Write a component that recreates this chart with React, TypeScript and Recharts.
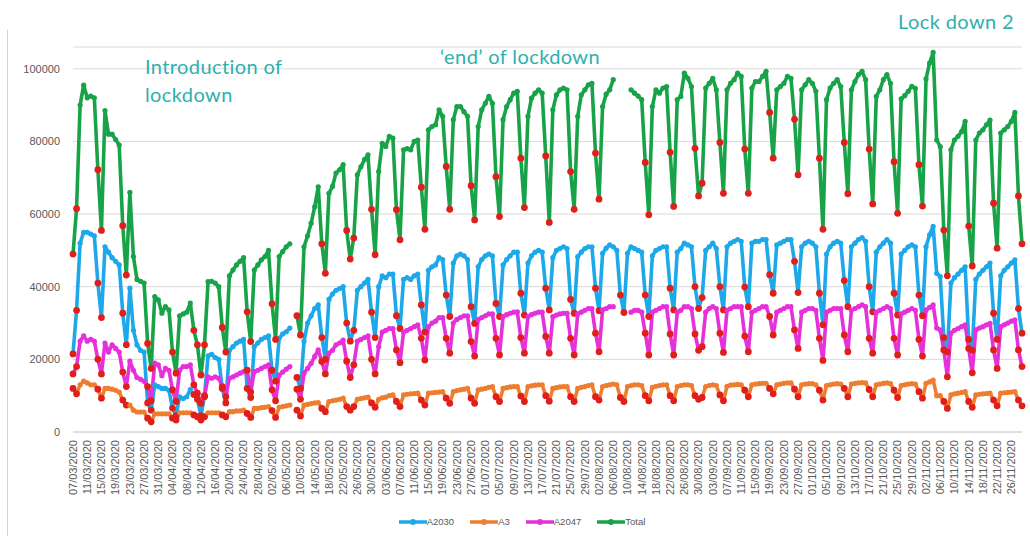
import {CartesianGrid, Legend, Line, LineChart, XAxis, YAxis} from 'recharts';

// daily counts in thousands, one row per week (Sat..Fri), from 07/03/2020
const A2030 = [
  21.5, 33.5, 52, 55, 55, 54.5, 54,
  41, 31.5, 51, 49.5, 48, 47, 46,
  32.7, 24, 39.6, 28, 24, 22.5, 22,
  8, 6, 13, 12.5, 12, 12, 11.5,
  6.6, 4.5, 9.7, 9.2, 9.7, 11.7, 10.3,
  9, 4.5, 10, 21, 21.4, 20.5, 20,
  12, 8, 22.5, 23.5, 24.5, 25, 25.5,
  12, 9.5, 23.5, 24.5, 25.5, 26, 26.5,
  17, 14, 25.8, 27, 27.6, 28.6, null,
  15, 12, 25, 30, 32, 34, 35,
  26, 20, 36.5, 38, 39, 39.5, 40,
  30, 25, 28, 39, 40, 41, 42,
  33, 26, 40, 43, 42.5, 43.5, 43.5,
  32, 28.5, 42, 42.5, 42, 43, 43.5,
  35, 27.5, 44.5, 45.5, 46, 48, 47.5,
  37.7, 31.8, 46.5, 48.5, 49, 48.5, 47.5,
  34.5, 29.9, 45.5, 47.5, 48.5, 49, 48.5,
  35.4, 31.8, 46, 47.5, 48.5, 49.5, 49.5,
  38.2, 32.2, 46.5, 48.5, 49.5, 50, 49.5,
  39.6, 33.6, 48, 50, 50.5, 51, 50.5,
  36.5, 32.7, 48.3, 49.5, 50.5, 51, 51,
  39.6, 33.4, 49.2, 50.6, 51.5, 51, 50,
  37.7, 32.9, 49.2, 51, 50.5, 50, 49.5,
  37.7, 31.8, 48.5, 50, 50.5, 51, 51,
  39.6, 33.6, 49.5, 50.5, 52, 51.5, 51,
  40, 34, 37, 50, 51, 52, 50.5,
  40, 33.6, 51, 52, 52.5, 53, 52.5,
  39.9, 34.5, 52, 52.5, 52.5, 53, 53,
  43.3, 38.2, 51.5, 52, 52.5, 53, 53,
  47, 38.4, 51, 52, 52.5, 52, 51,
  38.2, 29.5, 49, 51, 52, 52.5, 52,
  41.7, 34.5, 51, 52, 53, 53.5, 52.5,
  40, 33.1, 49.5, 51, 52, 53, 52,
  38.2, 32.2, 49, 50, 51, 51.5, 51,
  37.7, 32, 51, 54.3, 56.6, 43.7, 42.8,
  26, 22, 41, 42.5, 43.5, 44.5, 45.5,
  25.5, 22.5, 42, 43.5, 44.5, 45.5, 46.5,
  32.7, 25.5, 43, 44.5, 45.5, 46.5, 47.4,
  34, 27.2,
];

const A3 = [
  12, 10.5, 13, 14, 13.5, 13, 13,
  11.8, 9.3, 12, 12, 11.8, 11.5, 11,
  8.8, 7.4, 7.4, 6, 5.5, 5.5, 5.5,
  3.8, 2.8, 5, 5, 5, 5, 5,
  3.8, 3.3, 5.3, 5.3, 5.3, 5.3, 4.7,
  4.2, 3.3, 4.2, 5.3, 5.3, 5.3, 5.3,
  4.7, 4.2, 5.6, 5.6, 5.8, 5.8, 6,
  5.1, 4, 6.5, 6.5, 6.7, 6.8, 7,
  5.9, 4, 6.8, 7, 7.2, 7.4, null,
  6, 4.4, 7.4, 7.6, 7.8, 8, 8.1,
  6.5, 5.6, 8.4, 8.6, 8.8, 9, 9.3,
  7, 6, 7, 9, 9.2, 9.4, 9.6,
  8, 6.8, 9, 9.4, 9.6, 10, 10.2,
  8.4, 7, 10.2, 10.4, 10.5, 10.6, 10.7,
  8.8, 7.4, 10.7, 10.8, 10.9, 11, 11.1,
  9.3, 7.9, 11.1, 11.4, 11.6, 11.8, 12,
  9.3, 7.9, 11.6, 11.8, 12, 12.3, 12.5,
  9.7, 8.4, 12, 12.2, 12.4, 12.5, 12.5,
  9.9, 8.4, 12.5, 12.7, 12.9, 13, 13,
  10, 8.5, 12, 12.2, 12.4, 12.5, 12.5,
  9.7, 8.4, 12, 12.3, 12.5, 12.8, 13,
  9.7, 8.8, 12.5, 12.8, 13, 13.2, 13,
  9.5, 8.4, 12.5, 12.8, 13, 13, 12.8,
  10, 8.6, 12.3, 12.6, 12.8, 13, 13,
  10, 8.6, 12.5, 12.8, 13, 13, 12.8,
  10, 9, 9.5, 12.5, 12.8, 13, 12.8,
  10.2, 8.6, 12.6, 12.9, 13, 13.1, 13,
  11.5, 9.7, 13, 13.2, 13.3, 13.4, 13.4,
  12, 10.5, 13, 13.2, 13.4, 13.5, 13.5,
  11.8, 9.7, 13, 13.2, 13.3, 13.3, 13,
  11.5, 8.8, 12.8, 13, 13.2, 13.3, 13.2,
  12, 9.7, 13.2, 13.4, 13.5, 13.6, 13.5,
  11.7, 9.7, 13, 13.2, 13.4, 13.5, 13.3,
  11.5, 9.5, 12.8, 13, 13.2, 13.3, 13.2,
  11.1, 9.3, 13.4, 13.8, 14.3, 10, 10,
  8.4, 6.5, 10.2, 10.5, 10.7, 10.9, 11.1,
  8.4, 6.8, 10.2, 10.4, 10.5, 10.6, 10.7,
  8.8, 7.2, 10.7, 10.8, 10.9, 11, 11.1,
  8.8, 7.2,
];

const A2047 = [
  16, 18, 25, 26.5, 25, 25.5, 25,
  20, 16, 24.5, 22, 24, 23, 22,
  16.5, 12.5, 19.5, 17, 15, 14.5, 14,
  12.5, 8.6, 19, 18.5, 15.5, 17.5, 17,
  11.6, 8.4, 17, 18, 18, 18.5, 13,
  10.7, 7.9, 9.7, 15.2, 14.8, 15.2, 14.8,
  12.5, 9.7, 14.8, 15.2, 15.7, 16.2, 16.6,
  17, 11, 16.6, 17, 17.5, 18, 18.5,
  11.6, 8.6, 15.7, 16.5, 17.3, 18, null,
  11.8, 9, 16.2, 17.5, 18.9, 20.8, 22.6,
  19.4, 16, 21.7, 22.5, 24, 24.5, 25.3,
  19.5, 15, 18.5, 25, 25.5, 26, 26.5,
  20, 16, 23.5, 27.5, 28, 28.5, 28.5,
  22.6, 19.1, 27.5, 28, 28.5, 29, 29.5,
  25.8, 19.8, 29, 30, 30.5, 31.5, 31.5,
  25.8, 21.7, 30, 31, 31.5, 32, 32,
  24.9, 20.9, 31, 31.5, 32, 32.5, 32.5,
  25.8, 21.2, 31.8, 32.3, 32.7, 33, 33.1,
  26, 21.7, 31.8, 32.3, 32.7, 33, 33,
  26.3, 21.7, 31.8, 32.2, 32.5, 32.7, 32.7,
  25.8, 21.2, 32.5, 33, 33.5, 34, 34,
  27.2, 22.1, 33.6, 34, 34.5, 34.5, null,
  null, null, null, 33, 33.5, 33.5, 33,
  27.2, 21.2, 33, 33.5, 34, 34.5, 34.5,
  27, 21.2, 33, 33.5, 34.5, 34.5, 34,
  27, 22.5, 23.5, 33, 34, 34.5, 34,
  27.2, 21.9, 33.5, 34, 34.5, 34.5, 34.5,
  26.4, 22.1, 33, 33.5, 34, 34.5, 34.5,
  31.8, 26.7, 33, 33.5, 34, 34.5, 34.5,
  28.1, 23, 33, 33.5, 34, 34, 33.5,
  25.8, 19.7, 33, 33.5, 34, 34, 34,
  26.7, 22.1, 33.5, 34, 34.5, 35, 34.5,
  25.8, 21.7, 33, 33.5, 34, 34.5, 34,
  25.8, 21.2, 32.5, 33, 33.5, 34, 33.5,
  25.5, 20.9, 33.6, 34.3, 35, 28.6, 28.1,
  22.6, 15.2, 27.2, 28, 28.5, 29, 29.5,
  23, 16.3, 28.1, 28.6, 29, 29.5, 29.9,
  22.6, 17.5, 29, 29.5, 30, 30.5, 30.9,
  22.6, 18,
];

const TOTAL = [
  49, 61.5, 90, 95.5, 92, 92.5, 92,
  72.2, 55.5, 88.5, 82, 82, 80.5, 79,
  56.8, 43.2, 66, 48.3, 42, 41.5, 41,
  24.4, 17.5, 37.3, 36.4, 32.7, 34.5, 33.6,
  22, 16.2, 32, 32.5, 33, 35.5, 28,
  24, 15.7, 24, 41.4, 41.5, 41, 40,
  28.8, 22, 43, 44.6, 46, 47, 48,
  33.1, 24.9, 44.6, 46, 47.4, 48.3, 50,
  35.3, 25.5, 48.3, 49.7, 51, 51.8, null,
  32, 26.7, 51, 54, 57.5, 62, 67.5,
  51.8, 43.7, 65.7, 67.6, 71.3, 72.2, 73.6,
  55.5, 47.6, 53.4, 70.8, 73, 75, 76.3,
  61.3, 48.8, 71.7, 79.5, 78.6, 81.4, 80.9,
  61.2, 52.9, 77.7, 78, 77.7, 80, 80.4,
  67.4, 55.8, 83.2, 84.1, 84.6, 88.7, 86.9,
  73.1, 61.3, 86, 89.6, 89.6, 88.2, 86.9,
  67.8, 58.4, 84.1, 88.7, 90.5, 92.4, 90.5,
  70.3, 59.3, 86, 89.6, 91.5, 93.3, 93.8,
  75.4, 61.8, 86.9, 91.9, 93.3, 94.2, 93.3,
  76, 57.7, 88.7, 92.8, 94.2, 94.7, 94.2,
  71.7, 61.3, 86.9, 92.8, 94.2, 95.6, 96,
  76.8, 64.1, 89.6, 93, 94.2, 97, null,
  null, null, null, 94.2, 93.3, 92.5, 91.5,
  74.2, 59.8, 89.6, 94.2, 93.3, 94.7, 95.1,
  77, 62.1, 91.5, 92.4, 98.8, 97.4, 95.1,
  78.1, 65, 68.5, 94.7, 96, 97.4, 94.2,
  79.7, 65.7, 94.2, 96, 97, 98.8, 97.9,
  77.9, 65.7, 94.7, 96.5, 96.5, 97.9, 99.3,
  88, 75.4, 94.2, 95.1, 96, 97.9, 97.4,
  86.1, 70.8, 94.2, 95.6, 97, 96, 93.8,
  75.4, 55.8, 91.5, 94.7, 96, 97, 95.1,
  79.7, 65.6, 94.2, 96.5, 98.4, 99.3, 97,
  77.9, 62.8, 92.4, 94.2, 97, 98.4, 96,
  74.4, 60.2, 91.7, 92.6, 93.8, 95.2, 94.6,
  73.6, 62.2, 97.2, 101.6, 104.5, 80.4, 78.6,
  55.6, 43, 77.7, 80.4, 81.4, 82.7, 85.5,
  56.7, 45.7, 80.4, 82.3, 83.2, 84.6, 85.9,
  63, 50.6, 82.3, 83.2, 84.1, 85.5, 88,
  65, 51.8,
];

// bank holidays, drawn with red markers like weekends
const HOLIDAYS = ['10/04/2020', '13/04/2020', '08/05/2020', '25/05/2020', '31/08/2020'];
const Y_TICKS = [0, 20000, 40000, 60000, 80000, 100000];

const FIRST_DAY = Date.UTC(2020, 2, 7);
const pad = (n: number) => String(n).padStart(2, '0');

const data = TOTAL.map((_, i) => {
  const d = new Date(FIRST_DAY + i * 86400000);
  const date = `${pad(d.getUTCDate())}/${pad(d.getUTCMonth() + 1)}/${d.getUTCFullYear()}`;
  const wd = d.getUTCDay();
  const k = (v: number | null) => (v == null ? null : v * 1000);
  return {
    date,
    off: wd === 0 || wd === 6 || HOLIDAYS.includes(date),
    A2030: k(A2030[i]),
    A3: k(A3[i]),
    A2047: k(A2047[i]),
    Total: k(TOTAL[i]),
  };
});

const SERIES = [
  {key: 'A2030', color: '#1DA8EA'},
  {key: 'A3', color: '#EE7D30'},
  {key: 'A2047', color: '#E531DA'},
  {key: 'Total', color: '#18A348'},
];

const RED = '#E01F1A';
const FONT = '"Liberation Sans", Arial, sans-serif';
const TEAL = '#2FB0AE';

const makeDot = (color: string) => (props: any) => {
  const {cx, cy, index, payload, value} = props;
  if (value == null || !Number.isFinite(cx) || !Number.isFinite(cy)) return <g key={`d-${index}`} />;
  if (payload.off) return <circle key={`d-${index}`} cx={cx} cy={cy} r={3.4} fill={RED} />;
  return <circle key={`d-${index}`} cx={cx} cy={cy} r={2.6} fill={color} />;
};

const DateTick = ({x, y, payload}: any) => (
  <text x={x} y={y} transform={`rotate(-90 ${x} ${y})`} textAnchor="end" dy="0.35em" fontSize={11} fill="#595959" fontFamily={FONT}>
    {payload.value}
  </text>
);

const LegendBox = () => (
  <div style={{display: 'flex', justifyContent: 'center', alignItems: 'center', gap: 16, height: 29, paddingLeft: 14, fontFamily: FONT, fontSize: 9.5, color: '#595959'}}>
    {SERIES.map((s) => (
      <div key={s.key} style={{display: 'flex', alignItems: 'center'}}>
        <svg width={28} height={8}>
          <line x1={0} y1={4} x2={28} y2={4} stroke={s.color} strokeWidth={3.5} />
          <circle cx={14} cy={4} r={3} fill={s.color} />
        </svg>
        <span>{s.key}</span>
      </div>
    ))}
  </div>
);

const note = (left: number, top: number) => ({
  position: 'absolute' as const,
  left,
  top,
  color: TEAL,
  fontFamily: 'Lato, sans-serif',
  fontSize: 20,
  lineHeight: '20px',
  whiteSpace: 'nowrap' as const,
  letterSpacing: 0.4,
});

export default function App() {
  return (
    <div style={{position: 'fixed', left: 0, top: 0, width: 1030, height: 536, background: '#fff', overflow: 'hidden'}}>
      <div style={{position: 'absolute', left: 7, top: 30, width: 1, height: 506, background: '#d4d4d4'}} />
      <LineChart width={1030} height={536} data={data} margin={{top: 47, right: 8, bottom: 0, left: 0}}>
        <CartesianGrid vertical={false} stroke="#DADADA" />
        <XAxis dataKey="date" interval={3} tickLine={false} tickSize={6} tickMargin={2} axisLine={{stroke: '#D0D0D0'}} height={75} tick={<DateTick />} />
        <YAxis
          domain={[0, 106000]}
          ticks={Y_TICKS}
          allowDataOverflow
          axisLine={false}
          tickLine={false}
          tickSize={0}
          tickMargin={13}
          width={73}
          tick={{fontSize: 11, fill: '#595959', fontFamily: FONT}}
        />
        <Legend verticalAlign="bottom" height={29} content={<LegendBox />} wrapperStyle={{left: 0, width: 1030, bottom: 0}} />
        {SERIES.map((s) => (
          <Line
            key={s.key}
            dataKey={s.key}
            stroke={s.color}
            strokeWidth={3.6}
            strokeLinejoin="round"
            dot={makeDot(s.color)}
            activeDot={false}
            isAnimationActive={false}
          />
        ))}
      </LineChart>
      <div style={note(145, 56)}>Introduction of</div>
      <div style={note(145, 84)}>lockdown</div>
      <div style={note(440, 46)}>‘end’ of lockdown</div>
      <div style={note(898, 11)}>Lock down 2</div>
    </div>
  );
}
